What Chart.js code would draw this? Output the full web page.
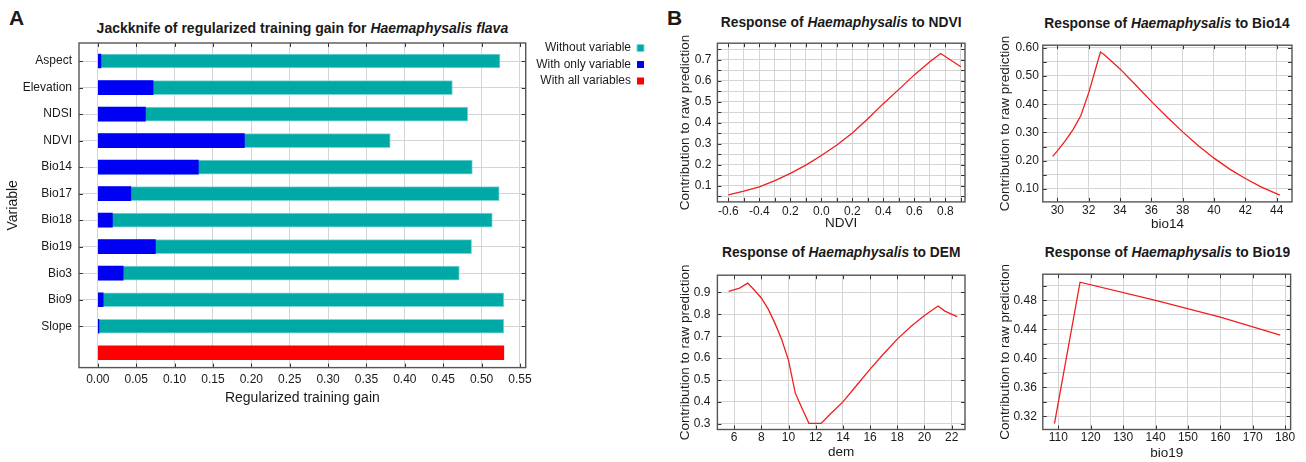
<!DOCTYPE html>
<html><head><meta charset="utf-8">
<script src="https://cdn.jsdelivr.net/npm/chart.js@4.4.0/dist/chart.umd.min.js"></script>
<style>
html,body{margin:0;padding:0;background:#fff;}
body{width:1306px;height:462px;position:relative;overflow:hidden;font-family:"Liberation Sans",Arial,Helvetica,sans-serif;color:#1a1a1a;}
.c{position:absolute;}
.t{position:absolute;text-align:center;font-weight:bold;white-space:nowrap;}
.p{position:absolute;font-weight:bold;font-size:21px;line-height:21px;}
</style></head><body>
<div class="p" style="left:9px;top:7px;">A</div>
<div class="p" style="left:667px;top:7px;">B</div>
<div class="t" style="left:0px;width:604.8px;top:19.3px;height:18px;line-height:18px;font-size:14px;">Jackknife of regularized training gain for <i>Haemaphysalis flava</i></div>
<div class="t" style="left:667.3px;width:347.8px;top:14.3px;height:18px;line-height:18px;font-size:13.8px;">Response of <i>Haemaphysalis</i> to NDVI</div>
<div class="t" style="left:993px;width:348px;top:14.8px;height:18px;line-height:18px;font-size:13.8px;">Response of <i>Haemaphysalis</i> to Bio14</div>
<div class="t" style="left:667.3px;width:347.8px;top:243.7px;height:18px;line-height:18px;font-size:13.8px;">Response of <i>Haemaphysalis</i> to DEM</div>
<div class="t" style="left:993.5px;width:348px;top:243.7px;height:18px;line-height:18px;font-size:13.8px;">Response of <i>Haemaphysalis</i> to Bio19</div>

<canvas id="cA" class="c" width="660" height="407" style="left:0px;top:0px;"></canvas>
<canvas id="cNDVI" class="c" width="291" height="201" style="left:676.9px;top:30px;"></canvas>
<canvas id="cBio14" class="c" width="298" height="198" style="left:996.9px;top:33.5px;"></canvas>
<canvas id="cDEM" class="c" width="291" height="199" style="left:676.9px;top:261.3px;"></canvas>
<canvas id="cBio19" class="c" width="299" height="200" style="left:996.9px;top:261.3px;"></canvas>

<script>
// ---------- Panel A data ----------
const variables = ['Aspect','Elevation','NDSI','NDVI','Bio14','Bio17','Bio18','Bio19','Bio3','Bio9','Slope'];
const withoutVariable = [0.524,0.462,0.482,0.381,0.488,0.523,0.514,0.487,0.471,0.529,0.529];
const withOnlyVariable = [0.004,0.072,0.062,0.191,0.131,0.043,0.019,0.075,0.033,0.007,0.0015];
const withAllVariables = [0.529];
const gainTickLabels = ['0.00','0.05','0.10','0.15','0.20','0.25','0.30','0.35','0.40','0.45','0.50','0.55'];

// ---------- Panel B data ----------
const ndviX = [-0.6,-0.5,-0.4,-0.3,-0.2,-0.1,0.0,0.1,0.2,0.3,0.4,0.5,0.6,0.7,0.77,0.9];
const ndviY = [0.055,0.073,0.094,0.123,0.158,0.197,0.243,0.293,0.350,0.418,0.490,0.558,0.627,0.690,0.729,0.666];
const ndviXTickValues = [-0.6,-0.4,-0.2,0.0,0.2,0.4,0.6,0.8];
const ndviXTickLabels = ['-0.6','-0.4','0.2','0.0','0.2','0.4','0.6','0.8'];
const ndviYTickLabels = ['0.1','0.2','0.3','0.4','0.5','0.6','0.7'];

const bio14X = [29.7,30,30.5,31,31.5,32,32.75,33,34,35,36,37,38,39,40,41,42,43,44.2];
const bio14Y = [0.215,0.235,0.270,0.310,0.360,0.440,0.585,0.575,0.525,0.468,0.410,0.355,0.302,0.253,0.209,0.170,0.137,0.107,0.078];
const bio14XTickLabels = ['30','32','34','36','38','40','42','44'];
const bio14YTickLabels = ['0.10','0.20','0.30','0.40','0.50','0.60'];

const demX = [5.6,6.4,7.0,7.5,8.0,8.5,9.0,9.5,10.0,10.5,11.0,11.5,12.4,13,14,15,16,17,18,19,20,21,21.5,22.4];
const demY = [0.905,0.920,0.943,0.910,0.875,0.825,0.760,0.685,0.590,0.440,0.370,0.302,0.302,0.340,0.400,0.475,0.550,0.620,0.687,0.745,0.795,0.838,0.815,0.790];
const demXTickLabels = ['6','8','10','12','14','16','18','20','22'];
const demYTickLabels = ['0.3','0.4','0.5','0.6','0.7','0.8','0.9'];

const bio19X = [108.8,116.7,140,160,178.5];
const bio19Y = [0.310,0.505,0.480,0.457,0.432];
const bio19XTickLabels = ['110','120','130','140','150','160','170','180'];
const bio19YTickLabels = ['0.32','0.36','0.40','0.44','0.48'];

// ---------- styling ----------
const FONT = '"Liberation Sans", Arial, Helvetica, sans-serif';
const TXT = '#1a1a1a';
const GRID = '#d4d4d4';
const FRAME = '#555555';
const TEAL = '#00a8a6';
const TEAL_EDGE = '#7fd6d4';
const BLUE = '#0000f5';
const RED = '#ff0000';
const LINE = '#f01e1e';

function gridValues(min, max, step) {
  const out = [];
  const s = Math.ceil(min / step - 1e-9), e = Math.floor(max / step + 1e-9);
  for (let k = s; k <= e; k++) out.push(+(k * step).toFixed(10));
  return out;
}

function makeAxis(o) {
  const grid = o.grid || gridValues(o.min, o.max, o.step);
  const values = o.values || o.labels.map(Number);
  return {
    type: 'linear', min: o.min, max: o.max, reverse: !!o.reverse, offset: false,
    afterBuildTicks: s => { s.ticks = grid.map(v => ({ value: v })); },
    afterFit: s => { if (o.horizontal) s.height = o.size; else s.width = o.size; },
    ticks: {
      autoSkip: false, maxRotation: 0, minRotation: 0, padding: o.pad, color: TXT,
      font: { family: FONT, size: 12 },
      callback: v => { const i = values.findIndex(t => Math.abs(t - v) < 1e-7); return i < 0 ? '' : o.labels[i]; }
    },
    grid: { color: GRID, lineWidth: 1, drawTicks: false, offset: false },
    border: { display: false },
    title: { display: true, text: o.title, color: TXT, font: { family: FONT, size: o.titleSize }, padding: 0 }
  };
}

const framePlugin = {
  id: 'frame',
  afterDatasetsDraw(chart) {
    const { ctx, chartArea: { left, right, top, bottom } } = chart;
    const xs = chart.scales.x, ys = chart.scales.y, L = 4;
    ctx.save();
    ctx.strokeStyle = '#333';
    ctx.lineWidth = 1;
    ctx.beginPath();
    xs.ticks.forEach(t => {
      const px = Math.round(xs.getPixelForValue(t.value)) + 0.5;
      if (px <= left + 1 || px >= right - 1) return;
      ctx.moveTo(px, bottom); ctx.lineTo(px, bottom - L);
      ctx.moveTo(px, top); ctx.lineTo(px, top + L);
    });
    ys.ticks.forEach(t => {
      const py = Math.round(ys.getPixelForValue(t.value)) + 0.5;
      if (py <= top + 1 || py >= bottom - 1) return;
      ctx.moveTo(left, py); ctx.lineTo(left + L, py);
      ctx.moveTo(right, py); ctx.lineTo(right - L, py);
    });
    ctx.stroke();
    ctx.strokeStyle = FRAME;
    ctx.lineWidth = 1.4;
    ctx.strokeRect(left, top, right - left, bottom - top);
    ctx.restore();
  }
};

const LEGEND_W = 122.8;
const legendFix = {
  id: 'legendFix',
  beforeLayout(chart) {
    const lg = chart.legend;
    if (lg && !lg.__fixed) {
      const f = lg.fit;
      lg.fit = function () { f.call(this); this.width = LEGEND_W; };
      lg.__fixed = true;
    }
  },
  afterLayout(chart) {
    const lg = chart.legend;
    if (lg) { lg.top -= 5.5; lg.bottom -= 5.5; }
  }
};

// ---------- Panel A ----------
new Chart(document.getElementById('cA'), {
  type: 'bar',
  data: {
    datasets: [
      { label: 'Without variable', data: withoutVariable.map((v, i) => ({ x: v, y: i })),
        backgroundColor: TEAL, borderColor: TEAL_EDGE, borderWidth: 1, order: 1 },
      { label: 'With only variable', data: withOnlyVariable.map((v, i) => ({ x: v, y: i })),
        backgroundColor: BLUE, borderColor: BLUE, borderWidth: 0, order: 0 },
      { label: 'With all variables', data: withAllVariables.map(v => ({ x: v, y: variables.length })),
        backgroundColor: RED, borderColor: RED, borderWidth: 0, order: 2 }
    ]
  },
  options: {
    indexAxis: 'y', responsive: false, animation: false, devicePixelRatio: 1,
    datasets: { bar: { grouped: false, barThickness: 14 } },
    layout: { padding: { left: 4.9, top: 43, right: 11.5, bottom: 0 } },
    scales: {
      x: makeAxis({ min: -0.0245, max: 0.5575, step: 0.05, labels: gainTickLabels, title: 'Regularized training gain',
        titleSize: 14, horizontal: true, size: 39.4, pad: 4.5 }),
      y: makeAxis({ min: -0.68, max: 11.56, reverse: true, grid: variables.map((_, i) => i),
        values: variables.map((_, i) => i), labels: variables, title: 'Variable', titleSize: 14, size: 74.1, pad: 7 })
    },
    plugins: {
      legend: {
        display: true, position: 'right', align: 'start', rtl: true,
        labels: { boxWidth: 7, boxHeight: 7, padding: 4.5, color: TXT, font: { family: FONT, size: 12 },
          sort: (a, b) => a.datasetIndex - b.datasetIndex }
      },
      tooltip: { enabled: false }
    }
  },
  plugins: [framePlugin, legendFix]
});

// ---------- Panel B ----------
function responseChart(id, xs, ys, o) {
  new Chart(document.getElementById(id), {
    type: 'line',
    data: { datasets: [{ data: xs.map((x, i) => ({ x, y: ys[i] })), borderColor: LINE, borderWidth: 1.3,
      pointRadius: 0, fill: false, tension: 0 }] },
    options: {
      responsive: false, animation: false, devicePixelRatio: 1,
      layout: { padding: { left: 0, top: o.padTop, right: 3, bottom: 0 } },
      scales: {
        x: makeAxis(Object.assign({ horizontal: true, titleSize: 13.5 }, o.x)),
        y: makeAxis(Object.assign({ titleSize: 13.5, title: 'Contribution to raw prediction' }, o.y))
      },
      plugins: { legend: { display: false }, tooltip: { enabled: false } }
    },
    plugins: [framePlugin]
  });
}

responseChart('cNDVI', ndviX, ndviY, {
  padTop: 3.3,
  x: { min: -0.671, max: 0.927, step: 0.1, values: ndviXTickValues, labels: ndviXTickLabels, title: 'NDVI', size: 29.1, pad: 2.8 },
  y: { min: 0.022, max: 0.778, step: 0.05, labels: ndviYTickLabels, size: 40.4, pad: 6 }
});
responseChart('cBio14', bio14X, bio14Y, {
  padTop: 3,
  x: { min: 29.07, max: 44.98, step: 2, labels: bio14XTickLabels, title: 'bio14', size: 30.1, pad: 1.1 },
  y: { min: 0.054, max: 0.609, step: 0.05, labels: bio14YTickLabels, size: 45.8, pad: 4 }
});
responseChart('cDEM', demX, demY, {
  padTop: 3,
  x: { min: 4.77, max: 22.98, step: 2, labels: demXTickLabels, title: 'dem', size: 30.5, pad: 0.8 },
  y: { min: 0.274, max: 0.979, step: 0.1, labels: demYTickLabels, size: 40.4, pad: 7 }
});
responseChart('cBio19', bio19X, bio19Y, {
  padTop: 3,
  x: { min: 105.2, max: 181.7, step: 10, labels: bio19XTickLabels, title: 'bio19', size: 31.5, pad: 0.8 },
  y: { min: 0.302, max: 0.516, step: 0.02, labels: bio19YTickLabels, size: 45.8, pad: 6 }
});
</script>
</body></html>
